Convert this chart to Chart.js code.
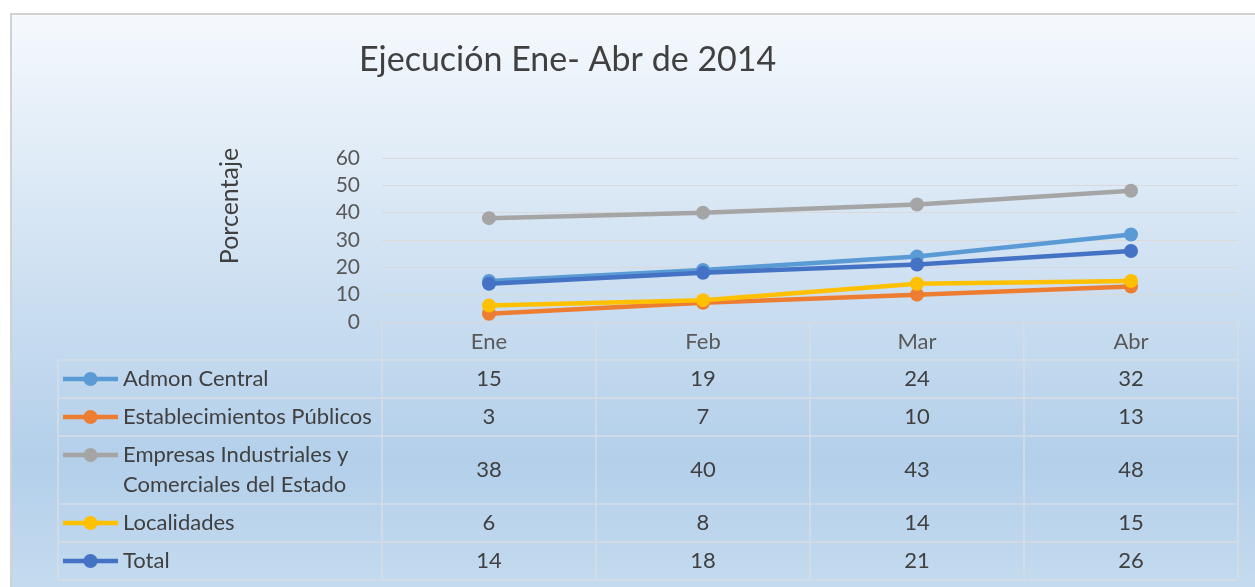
<!DOCTYPE html>
<html><head><meta charset="utf-8">
<script src="https://cdn.jsdelivr.net/npm/chart.js@4"></script>
<style>html,body{margin:0;padding:0;background:#fff;overflow:hidden}</style>
</head><body>
<canvas id="c" width="1255" height="587" style="display:block;width:1255px;height:587px"></canvas>
<script>
// ---- data ----
const categories = ['Ene', 'Feb', 'Mar', 'Abr'];
const seriesNames = ['Admon Central', 'Establecimientos Públicos', 'Empresas Industriales y Comerciales del Estado', 'Localidades', 'Total'];
const admonCentral = [15, 19, 24, 32];
const establecimientosPublicos = [3, 7, 10, 13];
const empresasIndustriales = [38, 40, 43, 48];
const localidades = [6, 8, 14, 15];
const total = [14, 18, 21, 26];
const yTickValues = [0, 10, 20, 30, 40, 50, 60];
const chartTitle = 'Ejecución Ene- Abr de 2014';
const yAxisTitle = 'Porcentaje';

// ---- styles ----
const seriesValues = [admonCentral, establecimientosPublicos, empresasIndustriales, localidades, total];
const seriesColors = ['#5b9bd5', '#ed7d31', '#a5a5a5', '#ffc000', '#4472c4'];
const FONT = 'Lato, "Open Sans", sans-serif';
const textColor = '#404040';
const tickColor = '#595959';
const lineGrid = '#d9d9d9';
const tableLine = '#d6dde5';

const datasets = seriesValues.map((vals, i) => ({
  label: seriesNames[i],
  data: vals,
  borderColor: seriesColors[i],
  backgroundColor: seriesColors[i],
  pointBackgroundColor: seriesColors[i],
  pointBorderColor: seriesColors[i],
  pointBorderWidth: 0,
  pointRadius: 7,
  borderWidth: 4.5,
  tension: 0,
  order: seriesValues.length - i
}));

const LEFT_PAD = 200;

const bgPlugin = {
  id: 'bg',
  beforeDraw(chart) {
    const ctx = chart.ctx;
    const W = chart.width, H = chart.height;
    ctx.save();
    ctx.fillStyle = '#ffffff';
    ctx.fillRect(0, 0, W, H);
    const g = ctx.createLinearGradient(0, 14, 0, H);
    g.addColorStop(0, '#f5f9fd');
    g.addColorStop(0.78, '#b3cfea');
    g.addColorStop(1, '#c4dbef');
    ctx.fillStyle = g;
    ctx.fillRect(11, 15, W - 11, H - 15);
    ctx.strokeStyle = '#d2d2d2';
    ctx.lineWidth = 2;
    ctx.beginPath();
    ctx.moveTo(11, H);
    ctx.lineTo(11, 14);
    ctx.lineTo(W, 14);
    ctx.stroke();
    ctx.restore();
  }
};

function wrapText(ctx, text, maxW) {
  const words = text.split(' ');
  const lines = [];
  let cur = '';
  words.forEach(w => {
    const t = cur ? cur + ' ' + w : w;
    if (ctx.measureText(t).width > maxW && cur) { lines.push(cur); cur = w; }
    else cur = t;
  });
  if (cur) lines.push(cur);
  return lines;
}

const tablePlugin = {
  id: 'dataTable',
  afterDraw(chart) {
    const ctx = chart.ctx;
    const xs = chart.scales.x;
    const area = chart.chartArea;
    const half = (xs.getPixelForValue(1) - xs.getPixelForValue(0)) / 2;
    const colEdges = [];
    categories.forEach((c, i) => colEdges.push(xs.getPixelForValue(i) - half));
    colEdges.push(xs.getPixelForValue(categories.length - 1) + half);
    const tableLeft = 58;
    const tableTop = area.bottom + 38;
    const rowBase = 38, lineH = 30;
    ctx.save();
    ctx.font = '22px ' + FONT;
    const rows = seriesNames.map(n => wrapText(ctx, n, colEdges[0] - 123 - 4));
    const heights = rows.map(r => rowBase + (r.length - 1) * lineH);
    const ys = [tableTop];
    heights.forEach(h => ys.push(ys[ys.length - 1] + h));
    // grid
    ctx.strokeStyle = tableLine;
    ctx.lineWidth = 1.5;
    ctx.beginPath();
    ys.forEach(y => { ctx.moveTo(tableLeft, y); ctx.lineTo(colEdges[colEdges.length - 1], y); });
    ctx.moveTo(tableLeft, ys[0]); ctx.lineTo(tableLeft, ys[ys.length - 1]);
    colEdges.forEach(x => { ctx.moveTo(x, ys[0]); ctx.lineTo(x, ys[ys.length - 1]); });
    ctx.stroke();
    // rows
    rows.forEach((lines, r) => {
      const y0 = ys[r];
      const firstY = y0 + rowBase / 2;
      // legend key
      ctx.strokeStyle = seriesColors[r];
      ctx.lineWidth = 4.5;
      ctx.beginPath();
      ctx.moveTo(63, firstY); ctx.lineTo(118, firstY);
      ctx.stroke();
      ctx.fillStyle = seriesColors[r];
      ctx.beginPath();
      ctx.arc(90.5, firstY, 7, 0, Math.PI * 2);
      ctx.fill();
      // label
      ctx.fillStyle = textColor;
      ctx.textAlign = 'left';
      ctx.textBaseline = 'middle';
      lines.forEach((ln, k) => ctx.fillText(ln, 123, firstY + k * lineH));
      // values
      const cy = y0 + heights[r] / 2;
      ctx.textAlign = 'center';
      seriesValues[r].forEach((v, i) => ctx.fillText(String(v), xs.getPixelForValue(i), cy));
    });
    // titles
    ctx.fillStyle = textColor;
    ctx.textAlign = 'left';
    ctx.textBaseline = 'middle';
    ctx.font = '34px ' + FONT;
    ctx.fillText(chartTitle, 359, 60);
    ctx.save();
    ctx.translate(230, 206);
    ctx.rotate(-Math.PI / 2);
    ctx.textAlign = 'center';
    ctx.font = '25px ' + FONT;
    ctx.fillText(yAxisTitle, 0, 0);
    ctx.restore();
    ctx.restore();
  }
};

new Chart(document.getElementById('c'), {
  type: 'line',
  data: { labels: categories, datasets },
  options: {
    responsive: false,
    animation: false,
    events: [],
    layout: { padding: { left: LEFT_PAD, top: 158, right: 17, bottom: 587 - 360 } },
    plugins: { legend: { display: false }, title: { display: false }, tooltip: { enabled: false } },
    scales: {
      x: {
        type: 'category',
        offset: true,
        grid: { offset: true, drawOnChartArea: false, drawTicks: true, tickLength: 38, color: tableLine, lineWidth: 1.5 },
        border: { display: false },
        ticks: { color: tickColor, font: { family: FONT, size: 22 }, padding: -31, maxRotation: 0, autoSkip: false },
        afterFit(axis) { axis.height = 38; }
      },
      y: {
        min: 0, max: 60,
        afterBuildTicks(axis) { axis.ticks = yTickValues.map(v => ({ value: v })); },
        grid: { color: lineGrid, lineWidth: 1, drawTicks: false },
        border: { display: false },
        ticks: { color: tickColor, font: { family: FONT, size: 21 }, padding: 22, autoSkip: false },
        afterFit(axis) { axis.width = 382 - LEFT_PAD; }
      }
    }
  },
  plugins: [bgPlugin, tablePlugin]
});
</script>
</body></html>
